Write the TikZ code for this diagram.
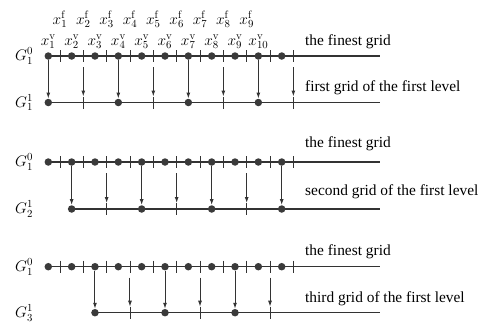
\RequirePackage{fix-cm}
\documentclass[tikz,border=0pt]{standalone}
\usepackage{fontspec}
\newfontfamily\tnr{Liberation Serif}
\usetikzlibrary{arrows.meta}
\definecolor{ln}{HTML}{333333}
\definecolor{dotc}{HTML}{3A3A3A}
\tikzset{
  gridline/.style={draw=ln, line width=1.2pt},
  tck/.style={draw=ln, line width=0.9pt},
  dot/.style={circle, fill=dotc, inner sep=0pt, minimum size=7.5pt},
  arr/.style={draw=ln, line width=1pt, -{Latex[length=6pt,width=4pt]}},
  lab/.style={font=\tnr\fontsize{15.4}{18}\selectfont, anchor=base west, inner sep=0pt},
  mlab/.style={font=\fontsize{15.4}{18}\selectfont, anchor=base, inner sep=0pt},
}
\begin{document}
\begin{tikzpicture}[x=1pt,y=-1pt]
\useasboundingbox (0,0) rectangle (496,325);
% labels above first row
\foreach \i in {1,...,9}
  \node[mlab] (xf\i) at ({48.3+23.34*(\i-1)+11.67},24) {$x_{\i}^{\mathrm{f}}$};
\foreach \i in {1,...,10}
  \node[mlab] (xv\i) at ({48.3+23.34*(\i-1)},45) {$x_{\i}^{\mathrm{v}}$};
% rows
\foreach \r/\yf/\yc/\k/\dl/\tl/\txt/\tf/\tc in {
  1/56/102.5/0/{0,3,6,9}/{1.5,4.5,7.5,10.5}/first/45/91.7,
  2/162/209/1/{1,4,7,10}/{2.5,5.5,8.5}/second/147/195,
  3/266.7/312.7/2/{2,5,8}/{3.5,6.5,9.5}/third/255/302.7}{
  % fine grid
  \coordinate (r\r-fs) at (48.3,\yf);
  \coordinate (r\r-fe) at (380,\yf);
  \draw[gridline] (r\r-fs) -- (r\r-fe);
  \foreach \i in {0,...,10}{
    \coordinate (r\r-ft\i-a) at ({48.3+23.34*\i+11.67},\yf-6);
    \coordinate (r\r-ft\i-b) at ({48.3+23.34*\i+11.67},\yf+6);
    \draw[tck] (r\r-ft\i-a) -- (r\r-ft\i-b);
    \node[dot] (r\r-f\i) at ({48.3+23.34*\i},\yf) {};
  }
  % coarse grid
  \coordinate (r\r-cs) at ({48.3+23.34*\k},\yc);
  \coordinate (r\r-ce) at (380,\yc);
  \draw[gridline] (r\r-cs) -- (r\r-ce);
  \foreach \i in \dl{
    \node[dot] (r\r-c\i) at ({48.3+23.34*\i},\yc) {};
    \draw[arr] (r\r-f\i) -- (r\r-c\i);
  }
  \foreach \t [count=\m] in \tl{
    \coordinate (r\r-ct\m-a) at ({48.3+23.34*\t},\yc-6);
    \coordinate (r\r-ct\m-b) at ({48.3+23.34*\t},\yc+6);
    \draw[tck] (r\r-ct\m-a) -- (r\r-ct\m-b);
    \coordinate (r\r-as\m) at ({48.3+23.34*\t},\yf+11);
    \draw[arr] (r\r-as\m) -- (r\r-ct\m-a);
  }
  % labels
  \node[mlab] (g\r-f) at (24,\yf+4.5) {$G_1^0$};
  \node[mlab] (g\r-c) at (24,\yc+4.5) {$G_{\r}^1$};
  \node[lab] (t\r-f) at (305,\tf) {the finest grid};
  \node[lab] (t\r-c) at (305,\tc) {\txt{} grid of the first level};
}
\end{tikzpicture}
\end{document}
